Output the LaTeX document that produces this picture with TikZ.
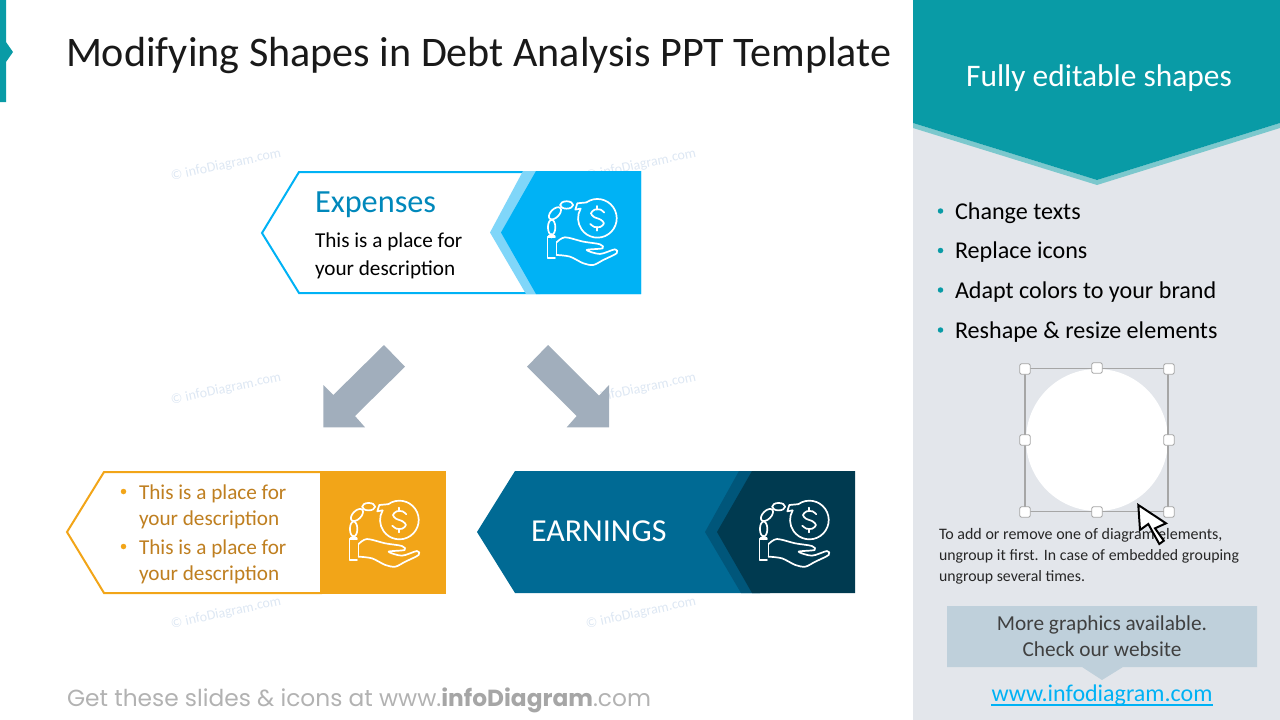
\documentclass[tikz,border=0pt]{standalone}
\usepackage{fontspec}
\setmainfont{Carlito}
\newfontfamily\footfont{Poppins}
\usetikzlibrary{calc}
\definecolor{teal1}{HTML}{099BA6}
\definecolor{teal2}{HTML}{7CC8CD}
\definecolor{panel}{HTML}{E3E6EB}
\definecolor{sky}{HTML}{00B2F5}
\definecolor{skyl}{HTML}{80D6F9}
\definecolor{skyt}{HTML}{0088BB}
\definecolor{org}{HTML}{F2A518}
\definecolor{orgt}{HTML}{BF7F20}
\definecolor{navy1}{HTML}{006A94}
\definecolor{navy2}{HTML}{00567A}
\definecolor{navy3}{HTML}{003A50}
\definecolor{arrowc}{HTML}{A1AEBC}
\definecolor{mark}{HTML}{DDE7F3}
\definecolor{callout}{HTML}{BFD0DB}
\definecolor{dark}{HTML}{404040}
\definecolor{footg}{HTML}{B2B2B2}
\definecolor{footd}{HTML}{A6A6A6}
\newcommand{\fs}[1]{\fontsize{#1}{#1}\selectfont}
\tikzset{
  lbl/.style={inner sep=0pt,outer sep=0pt,anchor=base west},
  lblc/.style={inner sep=0pt,outer sep=0pt,anchor=base},
  wmark/.style={inner sep=0pt,text=mark,rotate=12,font=\fs{14}},
  handle/.style={draw=gray!70,fill=white,line width=0.8pt,rounded corners=1.5pt,minimum size=10.5pt,inner sep=0pt},
  dot/.style={circle,inner sep=0pt,minimum size=5.5pt},
  icon line/.style={draw=white,line width=1.7pt,line join=round,line cap=round},
  moneyicon/.pic={
    \begin{scope}[x=0.3333pt,y=-0.3333pt,icon line]
      \draw (-33,-47.5) arc[start angle=125,end angle=-210,radius=19.33pt];
      \draw (-50,-29) -- (-66,-26) -- (-60,-45) -- (-33,-47.5);
      \draw plot[smooth] coordinates {(21,-17) (10,-26) (-8,-26) (-19,-15) (-10,-4) (10,4) (20,15) (9,26) (-9,26) (-21,17)};
      \draw (0,-37)--(0,-26) (0,26)--(0,37);
      \draw (-92,-40) ellipse[x radius=6.5pt,y radius=3.7pt];
      \draw (-127,-15) ellipse[x radius=7.5pt,y radius=4.2pt,rotate=45];
      \draw (-137,27) ellipse[x radius=3.7pt,y radius=7.5pt];
      \draw (-137,47)--(-137,58) (-146,53)--(-128,53);
      \draw (-127,57)--(-149,57)--(-149,120)--(-127,120);
      \draw plot[smooth] coordinates {(-122,72) (-97,57) (-42,70) (8,78) (16,90) (-32,95) (8,107) (53,93) (58,105) (18,125) (-12,140) (-42,135) (-82,115) (-122,110)};
      \draw (-122,72)--(-122,110);
    \end{scope}
  }
}
\begin{document}
\begin{tikzpicture}[x=1pt,y=-1pt]
\useasboundingbox (0,0) rectangle (1280,720);
% left accent
\fill[teal1] (0,0) -- (6,0) -- (6,42) -- (13,52) -- (6,62) -- (6,102) -- (0,102) -- cycle;
\node[lbl,text=black!90] (title) at (66,66) {\fs{42.1}Modifying Shapes in Debt Analysis PPT Template};
% watermarks
\foreach \n/\x/\y in {a/226/165,b/641/165,c/226/389,d/641/389,e/226/613,f/641/613}
  \node[wmark] (wm\n) at (\x,\y) {© infoDiagram.com};
% expenses
\draw[sky,fill=white,line width=2pt] (262,233) -- (299,172) -- (640,172) -- (640,293) -- (299,293) -- cycle;
\fill[skyl] (523,171) -- (490,232.5) -- (526,294) -- (540,294) -- (540,171) -- cycle;
\fill[sky] (536,171) -- (501,232.5) -- (536,294) -- (641,294) -- (641,171) -- cycle;
\pic at (597.3,218.3) {moneyicon};
\node[lbl,text=skyt] (exptitle) at (315,212) {\fs{32.3}Expenses};
\node[lbl] (expa) at (315,247) {\fs{21.2}This is a place for};
\node[lbl] (expb) at (315,275.5) {\fs{21.2}your description};
% arrows
\fill[arrowc] (323.3,427.3) -- (323.3,385) -- (333.3,395) -- (384,345) -- (405,366.7) -- (355,416) -- (365,427.3) -- cycle;
\fill[arrowc] (609,427.3) -- (609,385) -- (599,395.7) -- (548,345) -- (527,366.7) -- (576.7,416) -- (566.7,427.3) -- cycle;
% orange
\draw[org,fill=white,line width=2pt] (67,532) -- (104,472) -- (321,472) -- (321,593) -- (104,593) -- cycle;
\fill[org] (320,471) rectangle (446,594);
\pic at (399.3,520) {moneyicon};
\node[dot,fill=org] (ob1) at (123.5,491.5) {};
\node[dot,fill=org] (ob2) at (123.5,546.5) {};
\node[lbl,text=orgt] (oa) at (139,499) {\fs{21.2}This is a place for};
\node[lbl,text=orgt] (ob) at (139,525) {\fs{21.2}your description};
\node[lbl,text=orgt] (oc) at (139,554) {\fs{21.2}This is a place for};
\node[lbl,text=orgt] (od) at (139,580) {\fs{21.2}your description};
% earnings
\fill[navy1] (477,532) -- (515,471) -- (760,471) -- (760,593) -- (515,593) -- cycle;
\fill[navy2] (739,471) -- (705,532) -- (741,593) -- (770,593) -- (770,471) -- cycle;
\fill[navy3] (752,471) -- (717,532) -- (752,593) -- (855,593) -- (855,471) -- cycle;
\pic at (809.3,520) {moneyicon};
\node[lbl,text=white] (earn) at (531,541) {\fs{32}EARNINGS};
% right panel
\fill[panel] (913,0) rectangle (1280,720);
\fill[teal2] (913,123) -- (1097,180) -- (1280,123) -- (1280,128) -- (1097,185) -- (913,128) -- cycle;
\fill[teal1] (913,0) -- (1280,0) -- (1280,123) -- (1097,180) -- (913,123) -- cycle;
\node[lblc,text=white] (panelt) at (1099,86) {\fs{31.4}Fully editable shapes};
\foreach \n/\y/\t in {p/219/Change texts,q/258.5/Replace icons,r/298/Adapt colors to your brand,s/338/Reshape \& resize elements}{
  \node[dot,fill=teal1] (d\n) at (940.5,\y-8) {};
  \node[lbl] (t\n) at (955,\y) {\fs{24.1}\t};
}
% selection
\node[circle,fill=white,minimum size=142pt,inner sep=0pt] (circ) at (1097,440) {};
\draw[gray!70,line width=1.5pt] (1025,368.5) rectangle (1168,511.5);
\foreach \n/\x/\y in {a/1025/369,b/1097/368,c/1169/369,d/1025/440,e/1169/440,f/1025/512,g/1097/512,h/1169/512}
  \node[handle] (h\n) at (\x,\y) {};
% note
\node[lbl,text=black!85] (n1) at (939,539) {\fs{16}To add or remove one of diagram elements,};
\node[lbl,text=black!85] (n2) at (939,560) {\fs{15.8}\makebox[300pt][s]{ungroup it first. In case of embedded grouping}};
\node[lbl,text=black!85] (n3) at (939,581) {\fs{15.8}ungroup several times.};
% cursor
\draw[black,fill=white,line width=2pt,line join=miter] (1138.3,505) -- (1140,530) -- (1148.3,524) -- (1159.3,544) -- (1163.8,540.7) -- (1155,528.3) -- (1166,523.3) -- cycle;
% callout
\fill[callout] (947,606) -- (1257,606) -- (1257,667) -- (1123,667) -- (1102,680) -- (1082,667) -- (947,667) -- cycle;
\node[lblc,text=dark] (c1) at (1102,630) {\fs{21.3}More graphics available.};
\node[lblc,text=dark] (c2) at (1102,656) {\fs{21.3}Check our website};
\node[lblc,text=sky] (link) at (1102,701) {\fs{24}www.infodiagram.com};
\draw[sky,line width=1.5pt] (991,705) -- (1213,705);
% footer
\node[lbl,text=footg] (foot) at (67,706) {\footfont\fs{23.3}Get these slides \& icons at www.{\color{footd}\bfseries infoDiagram}.com};
\end{tikzpicture}
\end{document}
